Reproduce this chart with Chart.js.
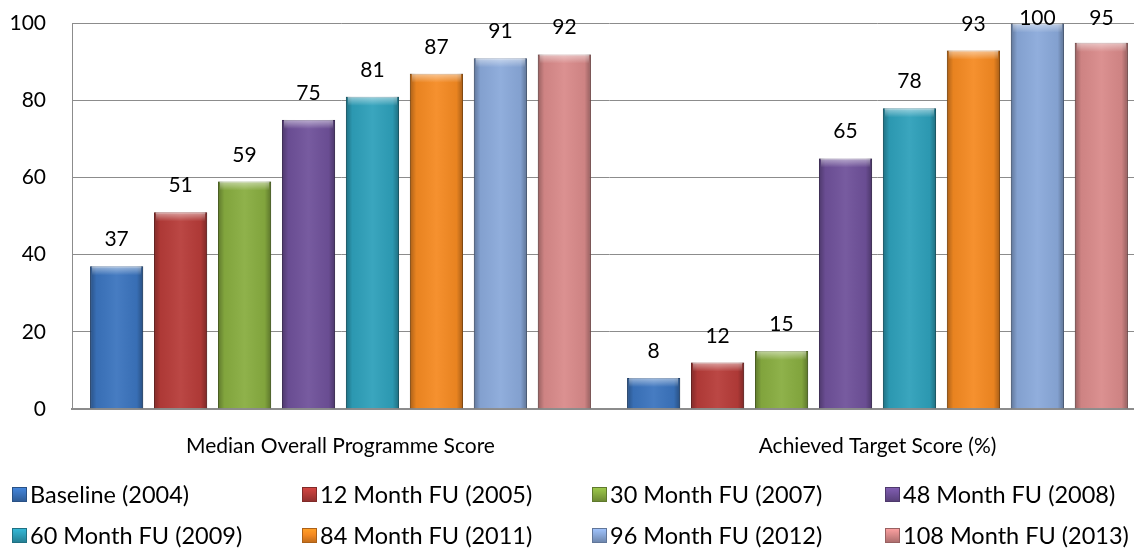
<!DOCTYPE html>
<html>
<head>
<meta charset="utf-8">
<script src="https://cdn.jsdelivr.net/npm/chart.js@4/dist/chart.umd.min.js"></script>
<style>
    html, body { margin: 0; padding: 0; background: #fff; overflow: hidden; }
    body { width: 1134px; height: 556px; position: relative; font-family: Lato, sans-serif; }
    #wrap { position: absolute; left: 0; top: -15px; width: 1150px; height: 499px; }
    #legend {
        position: absolute; left: 12px; top: 479px;
        display: grid; grid-template-columns: 290px 290px 293px 260px;
        row-gap: 11px; font-size: 23.5px; color: #000;
    }
    .item { display: flex; align-items: center; height: 30px; white-space: nowrap; }
    .box { width: 15px; height: 15px; margin-right: 3px; box-sizing: border-box; }
</style>
</head>
<body>
<div id="wrap"><canvas id="chart"></canvas></div>
<div id="legend"></div>
<script>
// Data
const categories = ['Median Overall Programme Score', 'Achieved Target Score (%)'];
const seriesNames = ['Baseline (2004)', '12 Month FU (2005)', '30 Month FU (2007)', '48 Month FU (2008)',
    '60 Month FU (2009)', '84 Month FU (2011)', '96 Month FU (2012)', '108 Month FU (2013)'];
const baseline = [37, 8];
const month12 = [51, 12];
const month30 = [59, 15];
const month48 = [75, 65];
const month60 = [81, 78];
const month84 = [87, 93];
const month96 = [91, 100];
const month108 = [92, 95];
const yTicks = [0, 20, 40, 60, 80, 100];

const seriesValues = [baseline, month12, month30, month48, month60, month84, month96, month108];
const colors = ['#3b74be', '#b73c39', '#88ad40', '#6f519a', '#2ea0ba', '#f58a22', '#8aa9da', '#d98a8a'];

function shade(hex, f) {
    const n = parseInt(hex.slice(1), 16);
    let r = n >> 16, g = (n >> 8) & 255, b = n & 255;
    r = Math.round(r * f); g = Math.round(g * f); b = Math.round(b * f);
    return `rgb(${Math.min(r, 255)}, ${Math.min(g, 255)}, ${Math.min(b, 255)})`;
}

// Bevel shading + value labels on top of each bar
const barExtras = {
    id: 'barExtras',
    afterDatasetsDraw(chart) {
        const ctx = chart.ctx;
        const areaTop = chart.chartArea.top;
        chart.data.datasets.forEach((ds, i) => {
            chart.getDatasetMeta(i).data.forEach((bar, j) => {
                const left = bar.x - bar.width / 2;
                const right = bar.x + bar.width / 2;
                const top = bar.y;
                const bottom = bar.base;
                const g = ctx.createLinearGradient(left, 0, right, 0);
                g.addColorStop(0, 'rgba(0,0,0,0.3)');
                g.addColorStop(0.12, 'rgba(0,0,0,0.05)');
                g.addColorStop(0.5, 'rgba(255,255,255,0.06)');
                g.addColorStop(0.88, 'rgba(0,0,0,0.05)');
                g.addColorStop(1, 'rgba(0,0,0,0.32)');
                ctx.save();
                ctx.fillStyle = g;
                ctx.fillRect(left, top, right - left, bottom - top);
                // top bevel
                const bev = Math.min(9, (bottom - top) / 2);
                const tg = ctx.createLinearGradient(0, top, 0, top + bev);
                tg.addColorStop(0, 'rgba(255,255,255,0.5)');
                tg.addColorStop(1, 'rgba(255,255,255,0)');
                ctx.fillStyle = tg;
                ctx.fillRect(left + 2, top, right - left - 4, bev);
                ctx.restore();

                // value label, kept inside the plot area at the top
                ctx.save();
                ctx.fillStyle = '#000';
                ctx.font = '21px Lato, sans-serif';
                ctx.textAlign = 'center';
                ctx.textBaseline = 'alphabetic';
                ctx.fillText(ds.data[j], bar.x, Math.max(top - 20, areaTop + 1));
                ctx.restore();
            });
        });
    }
};

const ctx = document.getElementById('chart').getContext('2d');
const chart = new Chart(ctx, {
    type: 'bar',
    data: {
        labels: categories,
        datasets: seriesNames.map((name, i) => ({
            label: name,
            data: seriesValues[i],
            backgroundColor: colors[i],
            borderColor: shade(colors[i], 0.75),
            borderWidth: 1,
            categoryPercentage: 0.953,
            barPercentage: 0.83
        }))
    },
    options: {
        responsive: true,
        maintainAspectRatio: false,
        animation: false,
        layout: { padding: { top: 12, right: 4, left: 0, bottom: 0 } },
        plugins: {
            legend: { display: false },
            tooltip: { enabled: false }
        },
        scales: {
            y: {
                min: 0,
                max: 100,
                afterBuildTicks: axis => { axis.ticks = yTicks.map(v => ({ value: v })); },
                afterFit: axis => { axis.width = 72; },
                grid: { color: '#8c8c8c', lineWidth: 1, drawTicks: false },
                border: { color: '#8c8c8c', width: 1 },
                ticks: { color: '#000', padding: 26, font: { family: 'Lato', size: 21 } }
            },
            x: {
                grid: { display: false, drawTicks: false },
                border: { color: '#8c8c8c', width: 2 },
                ticks: { color: '#000', padding: 25, font: { family: 'Lato', size: 21 } }
            }
        }
    },
    plugins: [barExtras]
});

// HTML legend in a 4-column grid
const legend = document.getElementById('legend');
seriesNames.forEach((name, i) => {
    const item = document.createElement('div');
    item.className = 'item';
    const box = document.createElement('span');
    box.className = 'box';
    box.style.background = `linear-gradient(180deg, ${shade(colors[i], 1.15)}, ${colors[i]} 45%, ${shade(colors[i], 0.8)})`;
    box.style.border = `1px solid ${shade(colors[i], 0.7)}`;
    item.appendChild(box);
    item.appendChild(document.createTextNode(name));
    legend.appendChild(item);
});
</script>
</body>
</html>
